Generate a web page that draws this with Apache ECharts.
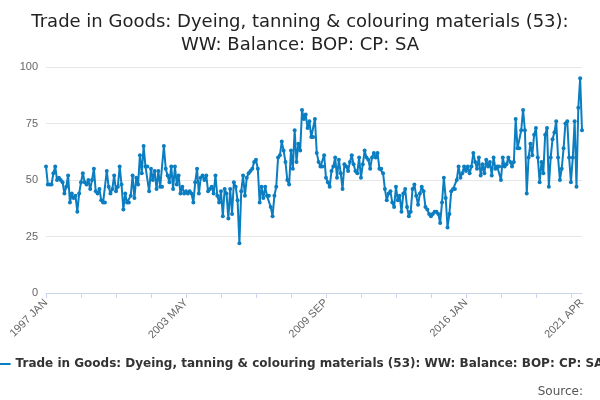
<!DOCTYPE html><html><head><meta charset="utf-8"><script src="https://cdn.jsdelivr.net/npm/echarts@6/dist/echarts.min.js"></script></head><body style="margin:0"><div id="c" style="width:600px;height:400px"></div><script>
const values=[56,48,48,48,53,56,50,51,50,49,44,47,
52,40,44,42,43,36,44,49,53,49,48,50,
46,50,55,45,44,46,41,40,40,54,47,44,
46,52,45,47,56,48,37,44,40,40,43,52,
42,51,48,61,53,65,56,56,45,55,50,54,
46,54,47,47,65,55,52,49,56,46,56,48,
52,44,47,44,45,44,45,44,40,49,55,44,
51,52,50,52,45,46,47,44,52,43,40,45,
34,46,44,33,46,35,49,47,41,22,45,52,
43,51,53,54,55,58,59,55,40,47,42,47,
43,43,38,34,43,47,60,61,67,63,58,50,
48,63,55,72,58,66,63,81,77,79,73,76,
69,69,77,62,58,56,56,61,51,49,47,54,
56,60,51,59,53,46,57,56,54,58,61,57,
54,53,60,51,57,63,60,59,55,60,62,60,
62,55,55,53,46,41,44,45,40,38,47,41,
43,36,44,46,38,34,36,46,48,43,39,44,
47,45,38,37,35,34,35,36,36,35,31,40,
51,42,29,35,45,46,46,50,56,51,53,56,
54,56,53,56,62,58,55,60,52,57,53,59,
56,58,52,60,55,56,56,50,60,56,57,60,
58,56,58,77,64,64,72,81,72,44,60,66,
61,70,73,60,49,58,53,70,73,47,60,68,
71,76,60,50,55,64,75,76,60,49,60,76,
47,82,95,72];
const M=['JAN','FEB','MAR','APR','MAY','JUN','JUL','AUG','SEP','OCT','NOV','DEC'];
const categories=values.map((v,i)=>(1997+Math.floor(i/12))+' '+M[i%12]);
const shown=[0,76,152,228,291];
const name='Trade in Goods: Dyeing, tanning & colouring materials (53): WW: Balance: BOP: CP: SA';
const title='Trade in Goods: Dyeing, tanning & colouring materials (53):\nWW: Balance: BOP: CP: SA';
echarts.init(document.getElementById('c')).setOption({
title:[{text:title,left:'center',top:6,textStyle:{fontSize:18,fontWeight:'normal',color:'#222',lineHeight:23,fontFamily:'DejaVu Sans'}},
{text:'Source:',right:12,top:381,textStyle:{fontSize:12,fontWeight:'normal',color:'#555',fontFamily:'DejaVu Sans'}}],
legend:{bottom:25,left:'center',itemWidth:14,itemHeight:2,icon:'rect',textStyle:{fontSize:12,color:'#333',fontWeight:'bold',fontFamily:'DejaVu Sans'},data:[name]},
grid:{left:46,right:18,top:67,bottom:107},
xAxis:{type:'category',data:categories,boundaryGap:false,axisLine:{lineStyle:{color:'#ccd6eb'}},axisTick:{interval:18,lineStyle:{color:'#ccd6eb'}},
axisLabel:{rotate:45,color:'#666',fontSize:11,interval:(i)=>shown.includes(i)}},
yAxis:{type:'value',min:0,max:100,interval:25,axisLabel:{color:'#666',fontSize:11},splitLine:{lineStyle:{color:'#e6e6e6'}}},
series:[{name:name,type:'line',data:values,color:'#0b7dc1',symbol:'circle',symbolSize:4,showAllSymbol:true,lineStyle:{width:2},animation:false}]
});
</script></body></html>
